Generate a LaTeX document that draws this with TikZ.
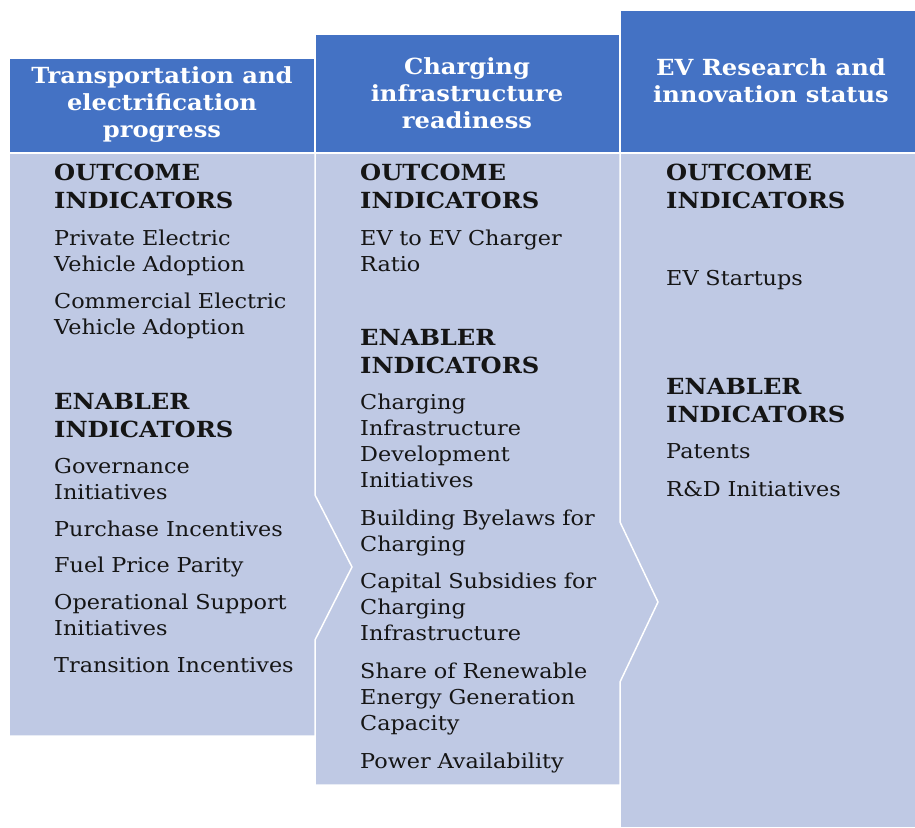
\documentclass[tikz,border=0pt]{standalone}
\usepackage{fontspec}
\setmainfont[FakeStretch=1.09]{DejaVu Serif}
\definecolor{hdrblue}{HTML}{4472C4}
\definecolor{bodyblue}{HTML}{BFC9E4}
\definecolor{txt}{HTML}{151515}
\tikzset{
  hdrbox/.style={fill=hdrblue,draw=white,line width=1.5pt},
  bodybox/.style={fill=bodyblue,draw=white,line width=1.5pt},
  hdrtext/.style={text=white,font=\bfseries\fontsize{22.2}{27}\selectfont,align=center,inner sep=0pt},
  headtext/.style={text=txt,font=\bfseries\fontsize{22.2}{28}\selectfont,anchor=base west,inner sep=0pt,text width=290pt,align=left},
  itemtext/.style={text=txt,font=\fontsize{20.5}{26.3}\selectfont,anchor=base west,inner sep=0pt,text width=290pt,align=left}
}
\begin{document}
\begin{tikzpicture}[x=1pt,y=-1pt]
\useasboundingbox (0,0) rectangle (915,827);
% column 3
\path[bodybox] (620,153) rectangle (916,828);
% column 2 body
\path[bodybox] (315,153) -- (620,153) -- (620,522) -- (658,602) -- (620,682) -- (620,785) -- (315,785) -- cycle;
% column 1 body
\path[bodybox] (9,153) -- (315,153) -- (315,495) -- (352,567) -- (315,640) -- (315,736) -- (9,736) -- cycle;
% headers
\path[hdrbox] (9,58) rectangle (315,153);
\path[hdrbox] (315,34) rectangle (620,153);
\path[hdrbox] (620,10) rectangle (916,153);

\node[hdrtext] (t1) at (162,105) {Transportation and\\electrification\\progress};
\node[hdrtext] (t2) at (467,93) {Charging\\infrastructure\\readiness};
\node[hdrtext] (t3) at (771,81) {EV Research and\\innovation status};

% column 1
\node[headtext] (c1o) at (54,180) {OUTCOME\\INDICATORS};
\node[itemtext] (c1a) at (54,245) {Private Electric\\Vehicle Adoption};
\node[itemtext] (c1b) at (54,308) {Commercial Electric\\Vehicle Adoption};
\node[headtext] (c1e) at (54,409) {ENABLER\\INDICATORS};
\node[itemtext] (c1c) at (54,473) {Governance\\Initiatives};
\node[itemtext] (c1d) at (54,536) {Purchase Incentives};
\node[itemtext] (c1f) at (54,572) {Fuel Price Parity};
\node[itemtext] (c1g) at (54,609) {Operational Support\\Initiatives};
\node[itemtext] (c1h) at (54,672) {Transition Incentives};

% column 2
\node[headtext] (c2o) at (360,180) {OUTCOME\\INDICATORS};
\node[itemtext] (c2a) at (360,245) {EV to EV Charger\\Ratio};
\node[headtext] (c2e) at (360,345) {ENABLER\\INDICATORS};
\node[itemtext] (c2b) at (360,409) {Charging\\Infrastructure\\Development\\Initiatives};
\node[itemtext] (c2c) at (360,525) {Building Byelaws for\\Charging};
\node[itemtext] (c2d) at (360,588) {Capital Subsidies for\\Charging\\Infrastructure};
\node[itemtext] (c2f) at (360,678) {Share of Renewable\\Energy Generation\\Capacity};
\node[itemtext] (c2g) at (360,768) {Power Availability};

% column 3
\node[headtext] (c3o) at (666,180) {OUTCOME\\INDICATORS};
\node[itemtext] (c3a) at (666,285) {EV Startups};
\node[headtext] (c3e) at (666,394) {ENABLER\\INDICATORS};
\node[itemtext] (c3b) at (666,458) {Patents};
\node[itemtext] (c3c) at (666,496) {R\&D Initiatives};
\end{tikzpicture}
\end{document}
